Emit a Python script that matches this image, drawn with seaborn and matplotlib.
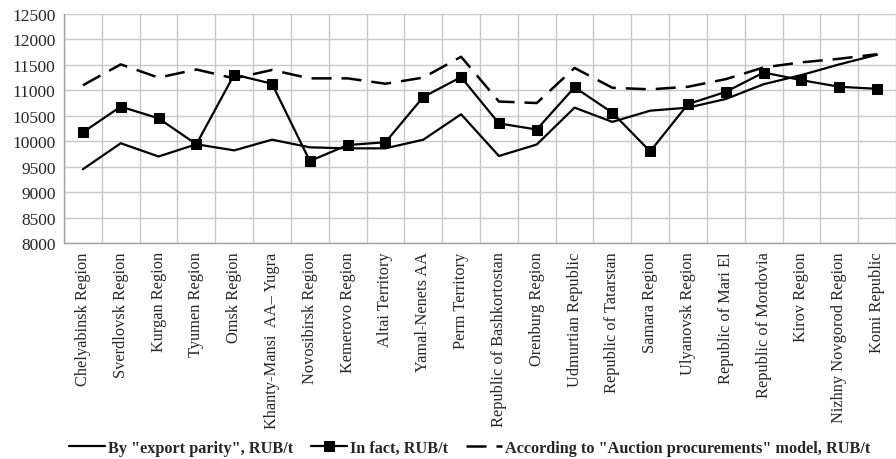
import matplotlib
matplotlib.use("Agg")
import matplotlib.pyplot as plt
import seaborn as sns
import pandas as pd
import numpy as np

regions = [
    "Chelyabinsk Region", "Sverdlovsk Region", "Kurgan Region", "Tyumen Region",
    "Omsk Region", "Khanty-Mansi  AA\u2013 Yugra", "Novosibirsk Region", "Kemerovo Region",
    "Altai Territory", "Yamal-Nenets AA", "Perm Territory", "Republic of Bashkortostan",
    "Orenburg Region", "Udmurtian Republic", "Republic of Tatarstan", "Samara Region",
    "Ulyanovsk Region", "Republic of Mari El", "Republic of Mordovia", "Kirov Region",
    "Nizhny Novgorod Region", "Komi Republic",
]

export_parity = [9450, 9960, 9700, 9940, 9820, 10030, 9880, 9860, 9860, 10030, 10530,
                 9710, 9935, 10660, 10380, 10600, 10660, 10830, 11120, 11300, 11510, 11700]
in_fact = [10175, 10680, 10450, 9940, 11310, 11130, 9610, 9925, 9980, 10870, 11260,
           10350, 10230, 11060, 10560, 9800, 10730, 10970, 11350, 11200, 11070, 11030]
auction = [11100, 11510, 11250, 11410, 11235, 11400, 11235, 11235, 11130, 11250, 11660,
           10780, 10750, 11440, 11050, 11020, 11070, 11220, 11450, 11550, 11620, 11710]

lab_export = 'By "export parity", RUB/t'
lab_fact = "In fact, RUB/t"
lab_auction = 'According to "Auction procurements" model, RUB/t'

df = pd.DataFrame({
    "idx": np.arange(len(regions)),
    "export": export_parity,
    "fact": in_fact,
    "auction": auction,
})

sns.set_style("white")
plt.rcParams["font.family"] = ["Liberation Serif", "DejaVu Serif"]

fig = plt.figure(figsize=(8.96, 4.6), dpi=100, facecolor="white")
ax = fig.add_axes([64 / 896, 1 - 244 / 460, (896 - 64) / 896, (244 - 15) / 460])

sns.lineplot(data=df, x="idx", y="export", ax=ax, color="black", linewidth=1.6,
             label=lab_export)
sns.lineplot(data=df, x="idx", y="fact", ax=ax, color="black", linewidth=1.6,
             marker="s", markersize=7.5, markeredgecolor="black", label=lab_fact)
sns.lineplot(data=df, x="idx", y="auction", ax=ax, color="black", linewidth=1.8,
             dashes=(8, 4), label=lab_auction)

# the picture is cut on the right: the slot width is 38.4 px
ax.set_xlim(-0.5, -0.5 + 832 / 38.4)
ax.set_ylim(8000, 12500)
ax.set_yticks(np.arange(8000, 12501, 500))
ax.set_xticks(np.arange(len(regions)))
ax.set_xticklabels(regions, rotation=90, fontsize=11.8)
ax.set_xticks(np.arange(len(regions) + 1) - 0.5, minor=True)
ax.tick_params(axis="x", which="major", length=0, pad=6)
ax.tick_params(axis="x", which="minor", length=4, color="#a0a0a0", width=1)
ax.tick_params(axis="y", length=4, color="#a0a0a0", width=1, labelsize=12.5, pad=2)
ax.set_xlabel("")
ax.set_ylabel("")

ax.grid(axis="y", which="major", color="#c8c8c8", linewidth=1)
ax.grid(axis="x", which="minor", color="#c8c8c8", linewidth=1)
ax.set_axisbelow(True)
for side in ["top", "right"]:
    ax.spines[side].set_visible(False)
for side in ["left", "bottom"]:
    ax.spines[side].set_color("#a0a0a0")
    ax.spines[side].set_linewidth(1)

ax.legend(loc="center", bbox_to_anchor=((470 - 64) / 832, (244 - 449) / 229),
          ncol=3, frameon=False, handlelength=2.2, columnspacing=1.1,
          handletextpad=0.2, prop={"weight": "bold", "size": 11.7})

fig.savefig("out.png", dpi=100, facecolor="white")
plt.close(fig)
